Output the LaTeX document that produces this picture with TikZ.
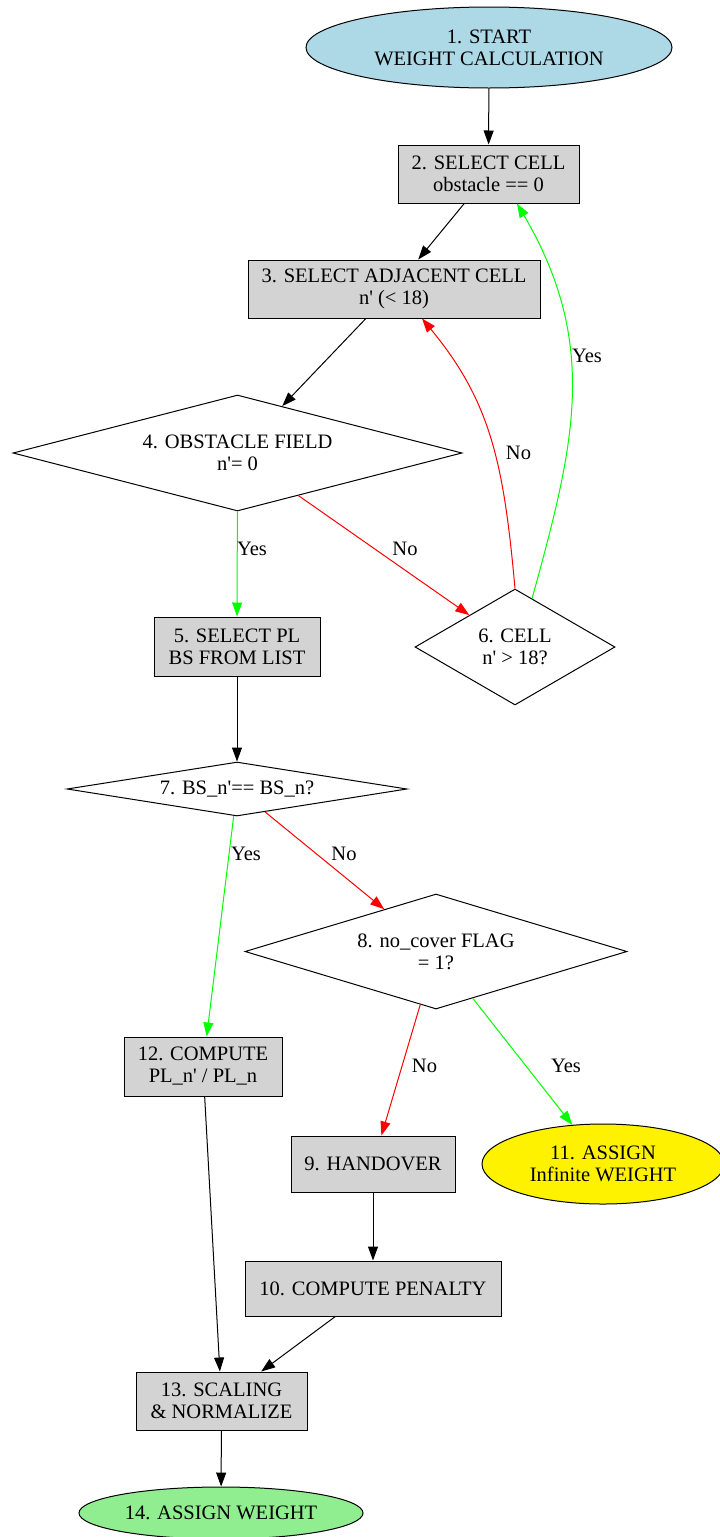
\documentclass[tikz,border=0pt]{standalone}
\usepackage{fontspec}
\setmainfont{Liberation Serif}[Ligatures=TeXOff]
\usetikzlibrary{shapes.geometric,arrows.meta,calc}
\definecolor{lblue}{HTML}{ADD8E6}
\definecolor{lgray}{HTML}{D3D3D3}
\definecolor{lgreen}{HTML}{90EE90}
\definecolor{gvgreen}{HTML}{00FF00}
\definecolor{gvred}{HTML}{FF0000}
\begin{document}
\begin{tikzpicture}[x=1pt,y=-1pt,
  every node/.style={font=\fontsize{20.5}{22}\selectfont, align=center, inner sep=0pt, line width=1pt},
  box/.style={draw, fill=lgray, rectangle},
  ell/.style={draw, ellipse},
  dia/.style={draw, diamond},
  arr/.style={line width=1pt, -{Triangle[length=14pt,width=10pt]}},
  yes/.style={arr, gvgreen},
  no/.style={arr, gvred},
  lab/.style={}
]
\useasboundingbox (0,0) rectangle (720,1537);

\node[ell, fill=lblue, minimum width=366pt, minimum height=81pt] (n1) at (489,47.5) {1. START\\WEIGHT CALCULATION};
\node[box, minimum width=181pt, minimum height=58pt] (n2) at (488.5,174) {2. SELECT CELL\\obstacle == 0};
\node[box, minimum width=292pt, minimum height=58pt] (n3) at (394,289) {3. SELECT ADJACENT CELL\\n' (< 18)};
\node[dia, aspect=3.87, minimum width=449pt, minimum height=116pt] (n4) at (237.5,453) {4. OBSTACLE FIELD\\n'= 0};
\node[box, minimum width=166pt, minimum height=59pt] (n5) at (237,646.5) {5. SELECT PL\\BS FROM LIST};
\node[dia, aspect=1.72, minimum width=200pt, minimum height=116pt] (n6) at (515,647) {6. CELL\\n' > 18?};
\node[dia, aspect=6.3, minimum width=340pt, minimum height=54pt] (n7) at (237,789) {7. BS\_n'== BS\_n?};
\node[dia, aspect=3.32, minimum width=382pt, minimum height=115pt] (n8) at (436,951.5) {8. no\_cover FLAG\\= 1?};
\node[box, minimum width=158pt, minimum height=59pt] (n12) at (203,1066.5) {12. COMPUTE\\PL\_n' / PL\_n};
\node[box, minimum width=164pt, minimum height=56pt] (n9) at (373,1164) {9. HANDOVER};
\node[ell, fill=yellow, minimum width=242pt, minimum height=80pt] (n11) at (603,1164) {11. ASSIGN\\Infinite WEIGHT};
\node[box, minimum width=256pt, minimum height=55pt] (n10) at (373,1288.5) {10. COMPUTE PENALTY};
\node[box, minimum width=171pt, minimum height=58pt] (n13) at (221.5,1401) {13. SCALING\\\& NORMALIZE};
\node[ell, fill=lgreen, minimum width=284pt, minimum height=52pt] (n14) at (221,1513) {14. ASSIGN WEIGHT};

\draw[arr] (n1) -- (n2);
\draw[arr] (n2) -- (n3);
\draw[arr] (n3) -- (n4);
\draw[yes] (n4) -- (n5);
\draw[no] (n4) -- (n6);
\draw[no] (n6.north) .. controls (503.7,463.5) and (491,402) .. ([xshift=28pt]n3.south);
\draw[yes] ($(n6.north)!0.17!(n6.east)$) .. controls (574,446) and (600,345) .. ([xshift=28.5pt]n2.south);
\draw[arr] (n5) -- (n7);
\draw[yes] (n7) -- (n12);
\draw[no] (n7) -- (n8);
\draw[no] (n8) -- (n9);
\draw[yes] (n8) -- (n11);
\draw[arr] (n9) -- (n10);
\draw[arr] (n10) -- (n13);
\draw[arr] (n12) -- (n13);
\draw[arr] (n13) -- (n14);

\node[lab] (l1) at (587,356) {Yes};
\node[lab] (l2) at (518.5,453) {No};
\node[lab] (l3) at (252,549) {Yes};
\node[lab] (l4) at (405,549) {No};
\node[lab] (l5) at (246,854) {Yes};
\node[lab] (l6) at (344,854) {No};
\node[lab] (l7) at (424.5,1066) {No};
\node[lab] (l8) at (566,1066) {Yes};
\end{tikzpicture}
\end{document}
